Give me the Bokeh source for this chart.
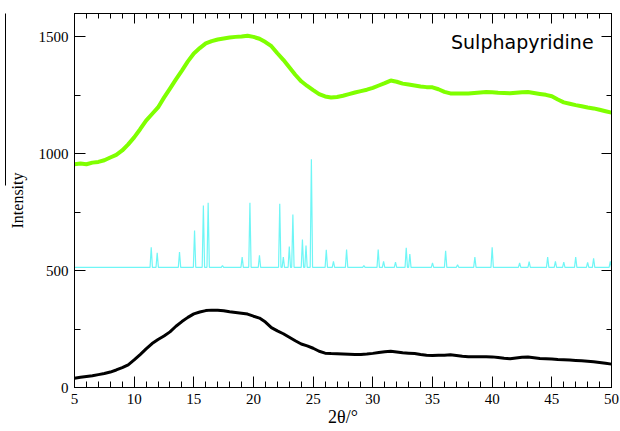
from bokeh.plotting import figure
from bokeh.models import (LinearAxis, SingleIntervalTicker, FixedTicker, Label, Range1d,
                          CustomJSTickFormatter)
from bokeh.embed import file_html
from bokeh.resources import INLINE

# ---------------- data ----------------
angles = [5 + 0.5 * i for i in range(91)]  # 2theta sampling grid, 5..50

amorphous_top = [
    955, 958, 955, 962, 965, 972, 984, 995, 1014, 1040,
    1070, 1105, 1142, 1170, 1198, 1240, 1279, 1318, 1356, 1395,
    1429, 1452, 1472, 1482, 1489, 1493, 1497, 1500, 1502, 1505,
    1500, 1492, 1478, 1460, 1430, 1402, 1370, 1338, 1310, 1290,
    1272, 1255, 1245, 1241, 1243, 1248, 1255, 1262, 1268, 1274,
    1282, 1292, 1302, 1313, 1308, 1300, 1296, 1292, 1288, 1285,
    1284, 1276, 1265, 1258, 1258, 1258, 1258, 1260, 1262, 1264,
    1263, 1261, 1260, 1259, 1261, 1263, 1264, 1260, 1256, 1252,
    1246, 1232, 1220, 1214, 1208, 1203, 1198, 1194, 1188, 1182,
    1176,
]

amorphous_bottom = [
    40, 44, 47, 50, 55, 60, 66, 75, 85, 97,
    118, 141, 165, 188, 205, 220, 238, 262, 282, 300,
    315, 323, 329, 331, 330, 328, 324, 321, 318, 314,
    305, 297, 280, 256, 242, 230, 215, 200, 186, 178,
    168, 155, 147, 145, 144, 143, 142, 141, 141, 143,
    146, 150, 153, 155, 152, 149, 147, 145, 141, 138,
    137, 138, 138, 140, 137, 134, 132, 132, 132, 132,
    131, 128, 125, 123, 126, 129, 130, 127, 124, 123,
    122, 120, 119, 118, 116, 114, 112, 110, 107, 104,
    100,
]

crystal_baseline = 514
peak_positions = [11.43, 11.93, 13.8, 15.06, 15.8, 16.2, 17.4, 19.05, 19.7, 20.5,
                  22.2, 22.5, 23.0, 23.3, 24.1, 24.4, 24.85, 26.1, 26.7, 27.8,
                  29.25, 30.45, 30.9, 31.9, 32.8, 33.1, 35.0, 36.1, 37.1, 38.55,
                  40.0, 42.3, 43.1, 44.65, 45.3, 46.0, 47.0, 48.0, 48.5, 49.9]
peak_heights = [600, 576, 579, 672, 779, 790, 522, 558, 790, 565,
                786, 558, 603, 740, 633, 607, 976, 589, 540, 590,
                522, 590, 540, 536, 598, 571, 533, 585, 525, 558,
                600, 533, 539, 558, 540, 536, 558, 535, 553, 540]

label_text = "Sulphapyridine"

# ---------------- build crystalline pattern polyline ----------------
hw = 0.1
cx = [5.0]
cy = [crystal_baseline]
for pos, h in zip(peak_positions, peak_heights):
    cx += [pos - hw, pos, pos + hw]
    cy += [crystal_baseline, h, crystal_baseline]
cx.append(50.0)
cy.append(crystal_baseline)

# ---------------- figure ----------------
p = figure(width=620, height=431, x_range=Range1d(5, 50), y_range=Range1d(0, 1600),
           output_backend="svg", toolbar_location=None,
           min_border_left=74, min_border_right=9, min_border_top=13, min_border_bottom=44)
p.grid.visible = False
p.outline_line_color = "black"
p.outline_line_width = 1
p.background_fill_color = "white"
p.border_fill_color = "white"

p.line(angles, amorphous_top, line_color="#7fff00", line_width=4)
p.line(cx, cy, line_color="#6ff6f6", line_width=1.2)
p.line(angles, amorphous_bottom, line_color="black", line_width=3)

serif = "Liberation Serif"

xt = SingleIntervalTicker(interval=5, num_minor_ticks=5)
yt = SingleIntervalTicker(interval=500, num_minor_ticks=2)

xa = p.xaxis[0]
xa.ticker = xt
ya = p.yaxis[0]
ya.ticker = yt
for ax in (xa, ya):
    ax.major_tick_in = 11
    ax.major_tick_out = 0
    ax.minor_tick_in = 6
    ax.minor_tick_out = 0
    ax.axis_line_color = "black"
    ax.major_tick_line_color = "black"
    ax.minor_tick_line_color = "black"
    ax.major_label_text_font = serif
    ax.major_label_text_font_size = "15px"
    ax.major_label_text_color = "black"
    ax.major_label_standoff = 6
    ax.axis_label_text_font = serif
    ax.axis_label_text_font_style = "normal"
    ax.axis_label_text_color = "black"

ya.axis_label = "Intensity"
ya.axis_label_text_font_size = "16px"
ya.axis_label_standoff = 10

xa.axis_label = "2θ/°"
xa.axis_label_text_font_size = "18px"
xa.axis_label_standoff = 0

blank = CustomJSTickFormatter(code="return ''")
for place, tk in (("above", xt), ("right", yt)):
    ax = LinearAxis(ticker=tk, formatter=blank, major_label_standoff=0,
                    major_label_text_font_size="1px",
                    major_tick_in=10, major_tick_out=0, minor_tick_in=5, minor_tick_out=0,
                    axis_line_color="black")
    p.add_layout(ax, place)

# thin bar over the rotated y label, as in the reference
bar = LinearAxis(ticker=FixedTicker(ticks=[]), bounds=(865, 1600),
                 major_label_standoff=0,
                 major_tick_in=0, major_tick_out=0, minor_tick_in=0, minor_tick_out=0,
                 axis_line_color="black", axis_line_width=1)
p.add_layout(bar, "left")

p.add_layout(Label(x=48.5, y=1476, text=label_text, text_align="right", text_baseline="alphabetic",
                   text_font="DejaVu Sans", text_font_size="19px", text_color="black"))

open("out.html", "w").write(file_html(p, INLINE))
